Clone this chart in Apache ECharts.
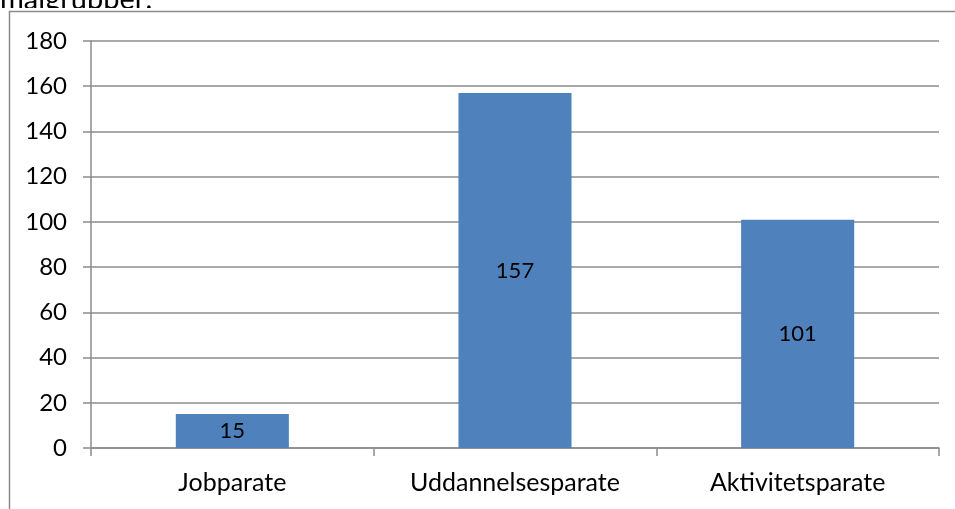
<!DOCTYPE html>
<html>
<head>
<meta charset="utf-8">
<script src="https://cdn.jsdelivr.net/npm/echarts@6/dist/echarts.min.js"></script>
<style>
html,body{margin:0;padding:0;background:#fff;}
#c{width:955px;height:509px;}
</style>
</head>
<body>
<div id="c"></div>
<script>
var categories = ["Jobparate", "Uddannelsesparate", "Aktivitetsparate"];
var values = [15, 157, 101];
var yTicks = [0, 20, 40, 60, 80, 100, 120, 140, 160, 180];
var headingText = "målgrupper:";

var font = "Lato, 'Open Sans', sans-serif";
var chart = echarts.init(document.getElementById('c'), null, {renderer: 'canvas'});
chart.setOption({
  animation: false,
  backgroundColor: '#ffffff',
  graphic: [
    {type: 'text', x: 0, y: 14, z: -10, style: {text: headingText, fontSize: 29, fontFamily: font, fill: '#000', verticalAlign: 'bottom'}},
    {type: 'rect', z: -5, shape: {x: 0, y: 8, width: 955, height: 509}, style: {fill: '#ffffff'}},
    {type: 'rect', z: -4, shape: {x: 9.5, y: 11.5, width: 1000, height: 600}, style: {fill: 'none', stroke: '#8c8c8c', lineWidth: 1.5}}
  ],
  grid: {left: 91, top: 41, right: 16, bottom: 61, containLabel: false},
  xAxis: {
    type: 'category',
    data: categories,
    axisLine: {show: true, lineStyle: {color: '#8c8c8c', width: 1.5}},
    axisTick: {show: true, length: 8, alignWithLabel: false, lineStyle: {color: '#8c8c8c', width: 1.5}},
    axisLabel: {color: '#000', fontSize: 25, fontFamily: font, margin: 22}
  },
  yAxis: {
    type: 'value',
    min: yTicks[0],
    max: yTicks[yTicks.length - 1],
    interval: 20,
    axisLine: {show: true, lineStyle: {color: '#8c8c8c', width: 1.5}},
    axisTick: {show: true, length: 8, lineStyle: {color: '#8c8c8c', width: 1.5}},
    splitLine: {show: true, lineStyle: {color: '#8c8c8c', width: 1.5}},
    axisLabel: {color: '#000', fontSize: 24, fontFamily: font, margin: 24}
  },
  series: [{
    type: 'bar',
    data: values,
    barWidth: '40%',
    itemStyle: {color: '#4F81BD'},
    label: {show: true, position: 'inside', color: '#000', fontSize: 22, fontFamily: font}
  }]
});
</script>
</body>
</html>
